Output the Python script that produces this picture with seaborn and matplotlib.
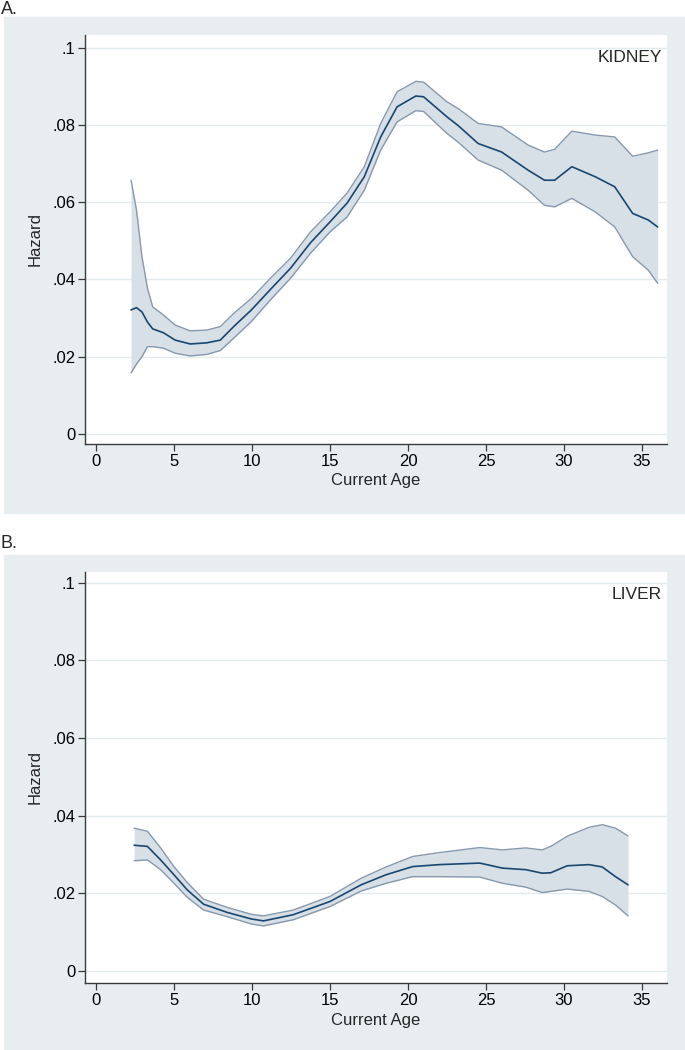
import matplotlib
matplotlib.use("Agg")
import matplotlib.pyplot as plt
import seaborn as sns
from matplotlib.patches import Rectangle

# Kidney hazard (panel A): age, hazard, lower and upper 95% band
kidney_age = [2.25, 2.6, 2.95, 3.3, 3.64, 4.33, 5.08, 6.04, 7.11, 7.97, 8.83, 9.96,
              11.18, 12.47, 13.75, 15.0, 16.1, 17.2, 18.25, 19.3, 20.5, 21.0, 22.5,
              23.2, 24.5, 26.0, 27.7, 28.75, 29.4, 30.5, 32.0, 33.25, 34.4, 35.4, 36.0]
kidney_haz = [0.0321, 0.0327, 0.0316, 0.0290, 0.0272, 0.0262, 0.0243, 0.0233, 0.0236,
              0.0243, 0.0278, 0.0321, 0.0374, 0.0429, 0.0495, 0.0549, 0.0598, 0.0666,
              0.0769, 0.0847, 0.0875, 0.0873, 0.0821, 0.0799, 0.0752, 0.0730, 0.0683,
              0.0657, 0.0657, 0.0692, 0.0666, 0.0640, 0.0571, 0.0554, 0.0536]
kidney_lo = [0.0158, 0.0181, 0.0200, 0.0226, 0.0226, 0.0222, 0.0209, 0.0202, 0.0206,
             0.0216, 0.0248, 0.0291, 0.0347, 0.0403, 0.0468, 0.0523, 0.0562, 0.0631,
             0.0735, 0.0808, 0.0837, 0.0835, 0.0778, 0.0756, 0.0709, 0.0683, 0.0631,
             0.0592, 0.0588, 0.0610, 0.0575, 0.0536, 0.0459, 0.0424, 0.0390]
kidney_hi = [0.0657, 0.0580, 0.0459, 0.0378, 0.0329, 0.0308, 0.0282, 0.0267, 0.0269,
             0.0278, 0.0312, 0.0351, 0.0403, 0.0455, 0.0523, 0.0575, 0.0624, 0.0692,
             0.0804, 0.0886, 0.0913, 0.0911, 0.0860, 0.0843, 0.0804, 0.0795, 0.0748,
             0.0730, 0.0737, 0.0784, 0.0774, 0.0769, 0.0719, 0.0728, 0.0735]

# Liver hazard (panel B)
liver_age = [2.45, 3.3, 4.15, 5.0, 5.85, 6.9, 8.4, 9.96, 10.74, 12.65, 15.0, 17.0,
             18.6, 20.3, 22.0, 24.6, 26.05, 27.55, 28.6, 29.15, 30.2, 31.6, 32.45,
             33.3, 34.1]
liver_haz = [0.0324, 0.0321, 0.0286, 0.0248, 0.0209, 0.0172, 0.0151, 0.0134, 0.0129,
             0.0145, 0.0179, 0.0222, 0.0248, 0.0269, 0.0274, 0.0278, 0.0265, 0.0261,
             0.0252, 0.0253, 0.0271, 0.0274, 0.0268, 0.0243, 0.0222]
liver_lo = [0.0284, 0.0286, 0.0261, 0.0226, 0.0190, 0.0157, 0.0140, 0.0121, 0.0116,
            0.0132, 0.0166, 0.0206, 0.0226, 0.0243, 0.0243, 0.0242, 0.0226, 0.0216,
            0.0202, 0.0205, 0.0211, 0.0205, 0.0192, 0.0170, 0.0142]
liver_hi = [0.0368, 0.0360, 0.0317, 0.0269, 0.0228, 0.0185, 0.0164, 0.0146, 0.0142,
            0.0157, 0.0192, 0.0239, 0.0268, 0.0295, 0.0305, 0.0318, 0.0312, 0.0317,
            0.0312, 0.0321, 0.0347, 0.0370, 0.0377, 0.0368, 0.0348]

y_ticks = [0, 0.02, 0.04, 0.06, 0.08, 0.1]
y_ticklabels = ["0", ".02", ".04", ".06", ".08", ".1"]
x_ticks = [0, 5, 10, 15, 20, 25, 30, 35]

sns.set_theme(style="white")
plt.rcParams["font.family"] = ["Liberation Sans", "DejaVu Sans"]

BG = "#E8EEF0"
GRID = "#E3EBEE"
NAVY = "#1A476F"
BAND = "#D7DFE7"
BAND_EDGE = "#8799AC"
AXC = "#3A3A3A"

W, H = 685, 1050
fig = plt.figure(figsize=(W / 100, H / 100), dpi=100)

# grey backgrounds of the two graph regions
fig.patches.append(Rectangle((4 / W, 1 - 513 / H), 1 - 4 / W, (513 - 17) / H,
                             transform=fig.transFigure, color=BG, zorder=-5))
fig.patches.append(Rectangle((4 / W, 0), 1 - 4 / W, 1 - 555 / H,
                             transform=fig.transFigure, color=BG, zorder=-5))

fig.text(1 / W, 1 - 9 / H, "A.", fontsize=13, ha="left", va="center")
fig.text(1 / W, 1 - 544 / H, "B.", fontsize=13, ha="left", va="center")

panels = [
    (kidney_age, kidney_haz, kidney_lo, kidney_hi, "KIDNEY", (35, 444), (-0.0026, 0.1033)),
    (liver_age, liver_haz, liver_lo, liver_hi, "LIVER", (572, 983), (-0.0031, 0.1028)),
]

for age, haz, lo, hi, name, (top, bot), ylim in panels:
    ax = fig.add_axes([85 / W, 1 - bot / H, (667 - 85) / W, (bot - top) / H])
    ax.set_zorder(1)
    ax.set_facecolor("white")

    ax.fill_between(age, lo, hi, color=BAND, lw=0, zorder=2)
    sns.lineplot(x=age, y=lo, ax=ax, color=BAND_EDGE, lw=1.0, zorder=3)
    sns.lineplot(x=age, y=hi, ax=ax, color=BAND_EDGE, lw=1.0, zorder=3)
    sns.lineplot(x=age, y=haz, ax=ax, color=NAVY, lw=1.2, zorder=4)

    ax.set_xlim(-0.7, 36.6)
    ax.set_ylim(*ylim)
    ax.set_xticks(x_ticks)
    ax.set_yticks(y_ticks)
    ax.set_yticklabels(y_ticklabels)
    ax.yaxis.grid(True, color=GRID, lw=1.0)
    ax.xaxis.grid(False)
    ax.set_axisbelow(True)

    for s in ["top", "right"]:
        ax.spines[s].set_visible(False)
    for s in ["left", "bottom"]:
        ax.spines[s].set_color(AXC)
        ax.spines[s].set_linewidth(1.0)
    ax.tick_params(axis="both", direction="out", length=5, width=0.9, color=AXC,
                   labelsize=12, labelcolor="black", pad=2,
                   left=True, bottom=True)

    ax.set_xlabel("Current Age", fontsize=12)
    ax.xaxis.set_label_coords(0.5, -0.072)
    ax.xaxis.label.set_va("top")
    ax.set_ylabel("Hazard", fontsize=12)
    ax.yaxis.set_label_coords(-0.072, 0.5)

    ax.text(0.991, 0.945, name, transform=ax.transAxes, ha="right", va="center",
            fontsize=12.5)

fig.savefig("out.png", dpi=100)
